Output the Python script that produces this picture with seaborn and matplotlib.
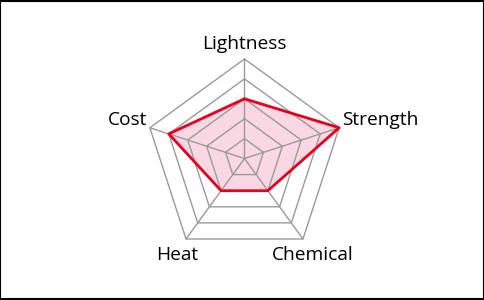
import numpy as np
import pandas as pd
import matplotlib
matplotlib.use("Agg")
import matplotlib.pyplot as plt
import seaborn as sns
from matplotlib.patches import Rectangle, Polygon

categories = ["Lightness", "Strength", "Chemical", "Heat", "Cost"]
values = [0.6, 1.0, 0.4, 0.4, 0.8]
levels = [0.2, 0.4, 0.6, 0.8, 1.0]

sns.set_theme(style="white")
plt.rcParams['font.family'] = ['Open Sans', 'DejaVu Sans']

W, H = 485, 300
fig = plt.figure(figsize=(W / 100, H / 100), dpi=100)
ax = fig.add_axes([0, 0, 1, 1])
cx, cy, R = 244.5, 158.5, 99.5

n = len(categories)
angles = np.pi / 2 - 2 * np.pi * np.arange(n) / n
ux, uy = np.cos(angles), np.sin(angles)

v = np.array(values)
px, py = ux * v, uy * v
ax.add_patch(Polygon(np.column_stack([px, py]), closed=True,
                     facecolor="#f9d8e4", edgecolor="none", zorder=1))

grid_col = "#9a9a9a"
for lv in levels:
    gx = np.append(ux * lv, ux[0] * lv)
    gy = np.append(uy * lv, uy[0] * lv)
    ax.plot(gx, gy, color=grid_col, lw=1.0, zorder=2)
for i in range(n):
    ax.plot([0, ux[i]], [0, uy[i]], color=grid_col, lw=1.0, zorder=2)

df = pd.DataFrame({"x": np.append(px, px[0]), "y": np.append(py, py[0])})
sns.lineplot(data=df, x="x", y="y", sort=False, color="#e8001c", lw=2.0,
             ax=ax, zorder=3, estimator=None)
ax.set_xlim(-cx / R, (W - cx) / R)
ax.set_ylim(-(H - cy) / R, cy / R)
ax.axis("off")

fs = 13.8
offs = {
    "Lightness": (0, 15, "center", "center"),
    "Strength": (3, 8, "left", "center"),
    "Chemical": (10, -16, "center", "center"),
    "Heat": (-9, -16, "center", "center"),
    "Cost": (-3, 8, "right", "center"),
}
for i, c in enumerate(categories):
    dx, dy, ha, va = offs[c]
    ax.text(ux[i] + dx / R, uy[i] + dy / R, c, ha=ha, va=va, fontsize=fs,
            color="black", fontweight="medium")

ax.add_patch(Rectangle((0.001, 0.002), 0.997, 0.995, transform=ax.transAxes,
                       fill=False, edgecolor="black", lw=1.5, clip_on=False, zorder=10))
fig.savefig("out.png", dpi=100)
